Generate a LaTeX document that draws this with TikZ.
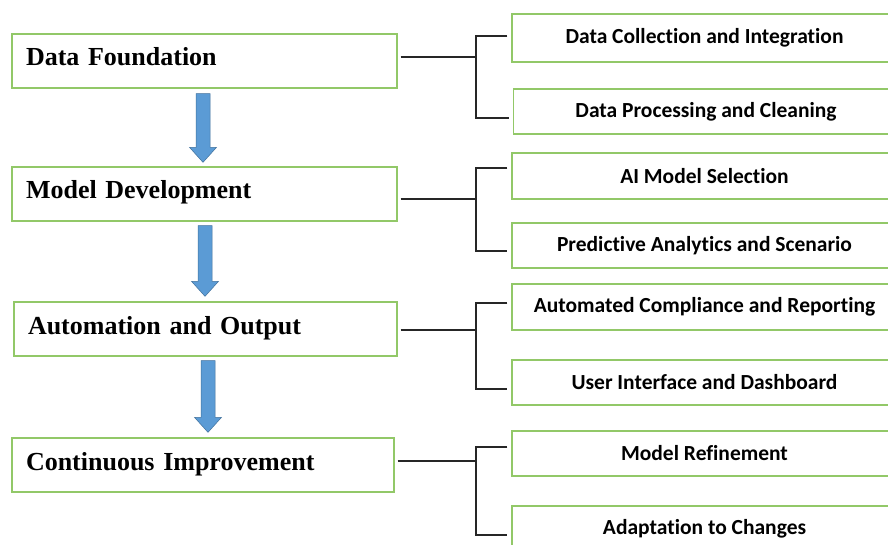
\documentclass[tikz,border=0pt]{standalone}
\usepackage{fontspec}
\setmainfont{Liberation Serif}
\newfontfamily\calib{Carlito}[Ligatures=NoCommon]
\usetikzlibrary{calc}
\definecolor{boxgreen}{RGB}{146,200,104}
\definecolor{arrowfill}{RGB}{91,155,213}
\definecolor{arrowline}{RGB}{65,113,156}
\tikzset{
  leftbox/.style={draw=boxgreen, line width=1.3pt, minimum height=54pt, inner xsep=14pt, inner ysep=0pt, text height=18pt, text depth=8pt, align=left, font=\fontsize{26}{30}\selectfont\bfseries},
  rightbox/.style={draw=boxgreen, line width=1.3pt, minimum width=385pt, inner sep=0pt, font=\calib\fontsize{21.5}{25}\selectfont\bfseries},
  conn/.style={draw=black!85, line width=1.2pt},
  bigarrow/.style={fill=arrowfill, draw=arrowline, line width=0.5pt}
}
\newcommand{\flowarrow}[2]{%
  \path[bigarrow] ($(#1)+(-7,0)$) -- ($(#1)+(7,0)$) -- ($(#2)+(7,-15)$) -- ($(#2)+(13.5,-15)$) -- (#2) -- ($(#2)+(-13.5,-15)$) -- ($(#2)+(-7,-15)$) -- cycle;}
% #1 left box, #2 its y offset, #3 top right box, #4 top offset, #5 bottom right box, #6 bottom offset, #7 group id
\newcommand{\bracketgroup}[7]{%
  \coordinate (ls#7) at ($(#1.east)+(3,#2)$);
  \coordinate (lj#7) at (476,0 |- ls#7);
  \coordinate (ts#7) at ($(#3.west)+(-4,#4)$);
  \coordinate (tj#7) at (476,0 |- ts#7);
  \coordinate (bs#7) at ($(#5.west)+(-4,#6)$);
  \coordinate (bj#7) at (476,0 |- bs#7);
  \draw[conn] (ls#7) -- (lj#7);
  \draw[conn] (ts#7) -- (tj#7) -- (bj#7) -- (bs#7);}
\begin{document}
\begin{tikzpicture}[x=1pt,y=-1pt]
\useasboundingbox (0,0) rectangle (888,545);
\clip (0,0) rectangle (888,545);
\fill[white] (0,0) rectangle (888,545);
% left boxes
\node[leftbox, text width=357pt] (L1) at (204.5,61) {Data Foundation};
\node[leftbox, text width=357pt] (L2) at (204.5,194) {Model Development};
\node[leftbox, text width=355pt] (L3) at (205.5,329) {Automation and Output};
\node[leftbox, text width=354pt] (L4) at (203,465) {Continuous Improvement};
% right boxes
\node[rightbox, minimum height=48pt] (R1) at (704.5,38) {Data Collection and Integration};
\node[rightbox, minimum height=45pt] (R2) at (706,111.5) {Data Processing and Cleaning};
\node[rightbox, minimum height=46pt] (R3) at (704.5,176) {AI Model Selection};
\node[rightbox, minimum height=45pt] (R4) at (704.5,245.5) {Predictive Analytics and Scenario};
\node[rightbox, minimum height=46pt] (R5) at (704.5,307) {Automated Compliance and Reporting};
\node[rightbox, minimum height=45pt] (R6) at (704.5,382.5) {User Interface and Dashboard};
\node[rightbox, minimum height=45pt] (R7) at (704.5,453.5) {Model Refinement};
\node[rightbox, minimum height=45pt] (R8) at (704.5,528.5) {Adaptation to Changes};
% connectors
\bracketgroup{L1}{-4}{R1}{-2}{R2}{6.5}{a}
\bracketgroup{L2}{5}{R3}{-8}{R4}{5.5}{b}
\bracketgroup{L3}{1}{R5}{-4}{R6}{6.5}{c}
\bracketgroup{L4}{-4}{R7}{-6.5}{R8}{6.5}{d}
% flow arrows
\flowarrow{$(L1.south)+(-1.5,5)$}{$(L2.north)+(-1.5,-4)$}
\flowarrow{$(L2.south)+(0.5,4)$}{$(L3.north)+(-0.5,-5)$}
\flowarrow{$(L3.south)+(2.5,4)$}{$(L4.north)+(5,-5)$}
\end{tikzpicture}
\end{document}
